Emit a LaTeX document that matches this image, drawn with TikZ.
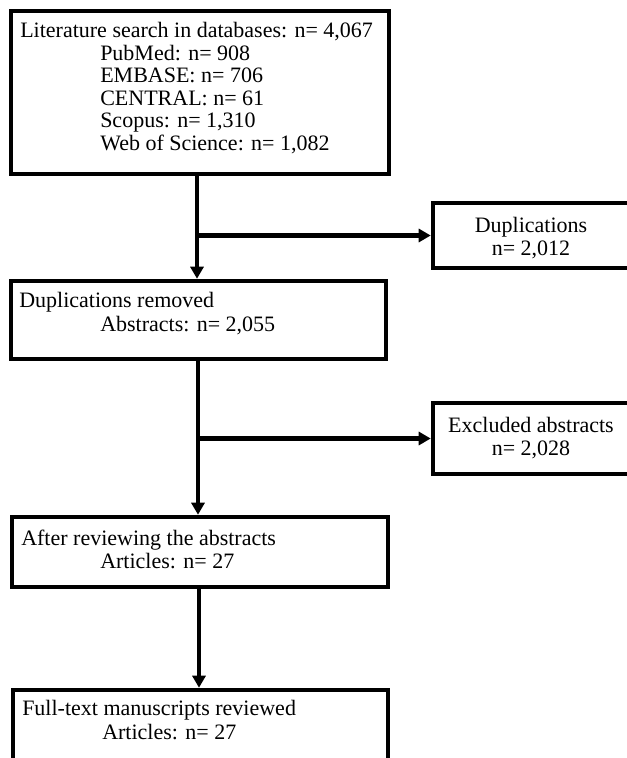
\documentclass[tikz,border=0pt]{standalone}
\usepackage{fontspec}
\setmainfont{Liberation Serif}
\usetikzlibrary{arrows.meta}
\begin{document}
\begin{tikzpicture}[x=0.75pt,y=-0.75pt,
  boxnode/.style={draw=black,line width=3.4pt,fill=none,rectangle,inner sep=0pt},
  txt/.style={inner sep=0pt,font=\fontsize{16.5}{20}\selectfont},
  ltxt/.style={txt,anchor=base west},
  ctxt/.style={txt,anchor=base},
  conn/.style={line width=3.2pt,-{Triangle[length=9pt,width=9.75pt]}}]
\useasboundingbox (0,0) rectangle (627,758);
% boxes
\node[boxnode,minimum width=283.5pt,minimum height=122.25pt] (b1) at (200,92.5) {};
\node[boxnode,minimum width=281.25pt,minimum height=58.5pt] (b2) at (198.5,320) {};
\node[boxnode,minimum width=282pt,minimum height=52.5pt] (b3) at (200,552) {};
\node[boxnode,minimum width=281.25pt,minimum height=105pt] (b4) at (200.5,760) {};
\node[boxnode,minimum width=150pt,minimum height=48.75pt] (d1) at (533,235.5) {};
\node[boxnode,minimum width=150pt,minimum height=53.25pt] (d2) at (533,438.5) {};
% texts
\node[ltxt] (t1a) at (20,37) {Literature search in databases: n= 4,067};
\node[ltxt] (t1b) at (100,60) {PubMed: n= 908};
\node[ltxt] (t1c) at (100,82) {EMBASE: n= 706};
\node[ltxt] (t1d) at (100,105) {CENTRAL: n= 61};
\node[ltxt] (t1e) at (100,127) {Scopus: n= 1,310};
\node[ltxt] (t1f) at (100,150) {Web of Science: n= 1,082};
\node[ltxt] (t2a) at (19,307) {Duplications removed};
\node[ltxt] (t2b) at (100,331) {Abstracts: n= 2,055};
\node[ltxt] (t3a) at (21,545) {After reviewing the abstracts};
\node[ltxt] (t3b) at (100,568) {Articles: n= 27};
\node[ltxt] (t4a) at (22,715) {Full-text manuscripts reviewed};
\node[ltxt] (t4b) at (102,739) {Articles: n= 27};
\node[ctxt] (td1a) at (531,232) {Duplications};
\node[ctxt] (td1b) at (531,255) {n= 2,012};
\node[ctxt] (td2a) at (531,432) {Excluded abstracts};
\node[ctxt] (td2b) at (531,455) {n= 2,028};
% connectors
\coordinate (j1) at (197,235.5);
\coordinate (j2) at (198,438.5);
\coordinate (j3) at (199,640);
\draw[conn] (b1.south -| j1) -- (b2.north -| j1);
\draw[conn] (j1) -- (d1.west);
\draw[conn] (b2.south -| j2) -- (b3.north -| j2);
\draw[conn] (j2) -- (d2.west);
\draw[conn] (b3.south -| j3) -- (b4.north -| j3);
\end{tikzpicture}
\end{document}
